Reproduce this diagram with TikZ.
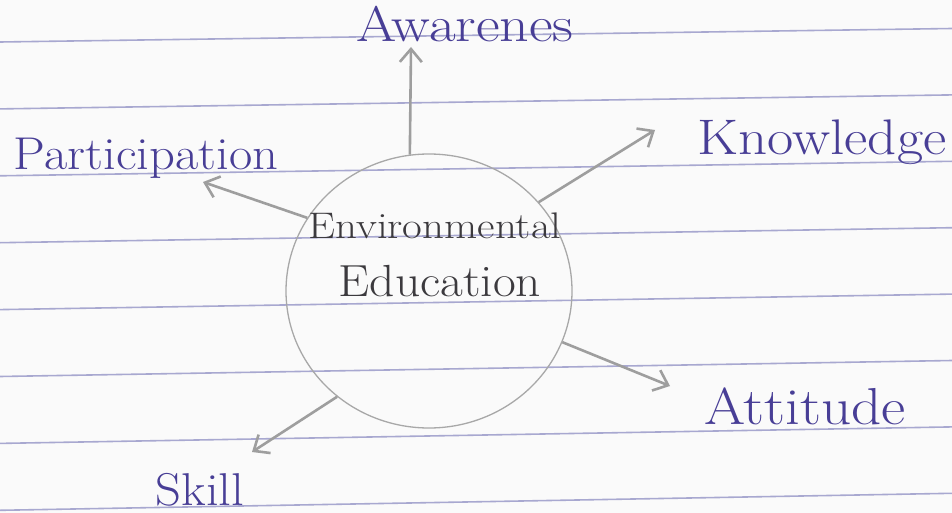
\documentclass[tikz,border=0pt]{standalone}
\usetikzlibrary{shapes.geometric,arrows.meta}
\definecolor{paper}{RGB}{250,250,250}
\definecolor{rule}{RGB}{168,168,208}
\definecolor{ink}{RGB}{72,62,150}
\definecolor{pencil}{RGB}{158,158,158}
\definecolor{lead}{RGB}{60,58,62}
\tikzset{
  rulestyle/.style={draw=rule, line width=1.6pt},
  lbl/.style={text=ink, inner sep=0pt, font=\fontsize{48}{48}\selectfont},
  ctr/.style={text=lead, inner sep=0pt},
  ring/.style={draw=pencil!90, line width=1.3pt, ellipse, minimum width=286pt, minimum height=274pt, inner sep=0pt},
  arr/.style={draw=pencil, line width=2.6pt, -{Straight Barb[length=13pt,width=22pt]}}
}
\begin{document}
\begin{tikzpicture}[x=1pt,y=-1pt]
\fill[paper] (0,0) rectangle (952,513);
\useasboundingbox (0,0) rectangle (952,513);
\foreach \k in {0,...,7}{
  \draw[rulestyle] (0,{42+66.9*\k}) -- (952,{28.5+66.4*\k});
}
\node[ring] (ee) at (429,291) {};
\node[ctr, font=\fontsize{37}{37}\selectfont] (env) at (435,226) {\scalebox{1.16}[1]{Environmental}};
\node[ctr, font=\fontsize{45}{45}\selectfont] (edu) at (440,281) {\scalebox{1.1}[1]{Education}};
\node[lbl, font=\fontsize{50}{50}\selectfont] (aw) at (465,24) {\scalebox{1.16}[1]{Awarenes}};
\node[lbl, font=\fontsize{50}{50}\selectfont] (kn) at (822,142) {\scalebox{1.14}[1]{Knowledge}};
\node[lbl, font=\fontsize{46}{46}\selectfont] (pa) at (146,158) {\scalebox{1.1}[1]{Participation}};
\node[lbl, font=\fontsize{52}{52}\selectfont] (at) at (805,406) {\scalebox{1.14}[1]{Attitude}};
\node[lbl, font=\fontsize{46}{46}\selectfont] (sk) at (200,490) {\scalebox{1.1}[1]{Skill}};
\coordinate (awT) at (411,47);
\coordinate (knT) at (655,130);
\coordinate (paT) at (203,182);
\coordinate (atT) at (670,386);
\coordinate (skT) at (252,452);
\draw[arr] (ee.98) -- (awT);
\draw[arr] (ee.39) -- (knT);
\draw[arr] (ee.149) -- (paT);
\draw[arr] (ee.-21) -- (atT);
\draw[arr] (ee.229) -- (skT);
\end{tikzpicture}
\end{document}
